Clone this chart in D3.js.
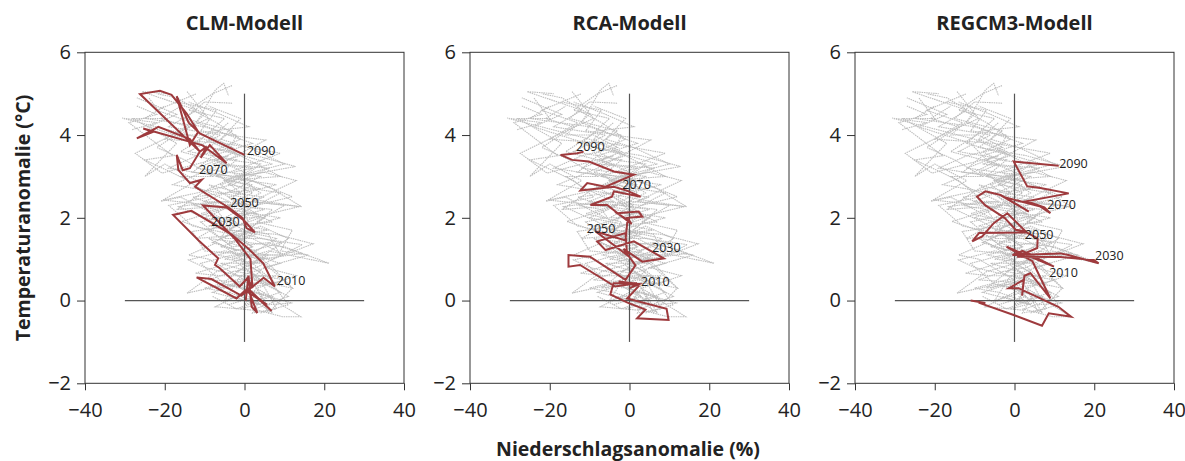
<!DOCTYPE html>
<html>
<head>
<meta charset="utf-8">
<script src="https://cdn.jsdelivr.net/npm/d3@7"></script>
<style>
  body { margin: 0; background: #fff; }
  svg { font-family: "Open Sans", "Noto Sans", sans-serif; }
</style>
</head>
<body>
<div id="chart"></div>
<script>
const RED = "#9e3a3d"
const GREY = "#bdbdbd"

const titles = ["CLM-Modell", "RCA-Modell", "REGCM3-Modell"];
const xTicks = [-40, -20, 0, 20, 40];
const yTicks = [-2, 0, 2, 4, 6];

// grey ensemble runs (same in every panel), [precip %, temp °C]
const grey1 = [[1,0.1],[7,-0.3],[3,0.3],[10,0.5],[-2,0.7],[6,1.1],[-6,1.3],[3,1.6],[-9,1.8],[1,2.1],[-4,2.5],[8,2.8],[-7,3.0],[-2,3.4],[-14,3.6],[-6,4.0],[-19,4.2],[-12,4.6],[-25.7,5.05],[-19,5.0]];
const grey2 = [[-3,0.1],[4,-0.1],[-8,0.2],[2,0.5],[12,0.3],[5,0.9],[-5,1.0],[9,1.4],[0,1.6],[-12,1.5],[-3,2.0],[5,2.2],[-10,2.4],[-2,2.7],[4,3.0],[-12,3.2],[-4,3.5],[-20.7,3.08],[-27.4,3.56],[-16,4.1],[-9,4.4],[-14.4,5.05]];
const grey3 = [[2,-0.2],[9.5,-0.39],[14.1,-0.39],[6,0.1],[-4,0.4],[-14.4,0.18],[-7,0.7],[4,1.0],[14.5,1.14],[6,1.4],[-3,1.3],[-9,1.7],[-15.7,1.91],[-6,2.2],[2,2.6],[-5,2.9],[9,3.0],[-3,3.6],[-10,3.9],[-30.7,4.41],[-22,4.3],[-28.2,4.13]];
const grey4 = [[0,0.2],[-7.3,-0.15],[1.9,-0.23],[11,0.1],[3,0.5],[-10,0.8],[-14,0.98],[-5,1.2],[7,1.0],[17.2,1.37],[8,1.6],[-4,1.7],[2,2.0],[13.7,2.27],[5,2.4],[-6,2.6],[-18,2.8],[-8,3.2],[5.3,3.88],[-4,4.0],[-12,4.3],[-7.3,5.09],[-5.2,5.25],[-4,4.95]];
const grey5 = [[4,0.0],[-1,0.3],[8,0.6],[-6,0.6],[-12.3,0.66],[-4,0.9],[6,1.2],[21.2,0.9],[10,1.3],[1,1.4],[-8,1.9],[-16.5,2.27],[-7,2.4],[3,2.3],[12,2.51],[2,2.9],[-9,3.1],[-4,3.3],[-16,3.6],[-8,4.1],[1.1,4.2],[-6,4.5],[-14,4.8]];
const grey6 = [[6,-0.1],[12,-0.06],[2,0.2],[-5,0.0],[-1,0.6],[9,0.9],[2,1.1],[-10,1.2],[-13.1,1.67],[-4,1.8],[7,1.9],[0,2.2],[-8,2.3],[-20.3,2.43],[-12,2.6],[-3,2.8],[6,3.2],[-6,3.3],[-11,3.8],[-24,4.2],[-17,4.5],[-27,4.9]];
const grey7 = [[-1,-0.2],[5,-0.05],[0,0.3],[6,0.4],[-9,0.5],[-3,0.7],[3,0.8],[14.5,1.35],[4,1.5],[-5,1.5],[-2,1.9],[-11,2.1],[0,2.4],[14.3,2.27],[7,2.7],[-1,3.0],[12.8,3.24],[3,3.5],[-9,3.7],[-3,4.1],[-15,4.4],[-10,4.8],[-3.1,4.77]];
const grey8 = [[3,0.3],[0,-0.1],[9,0.2],[1,0.7],[-6,0.9],[5,0.9],[-1,1.2],[-8,1.4],[1,1.8],[9,2.0],[-4,2.2],[-13,2.5],[-5,2.6],[4,2.7],[-7,3.0],[-1,3.2],[9,3.56],[-5,3.8],[-20,3.9],[-13,4.3],[-22,4.6],[-12,5.0]];
const grey9 = [[2,0.0],[-4,0.2],[-10,0.3],[-2,0.5],[5,0.6],[-1,1.0],[-7,1.1],[2,1.3],[-3,1.6],[6,1.7],[-10,2.0],[-3,2.3],[-17,2.2],[-9,2.7],[-2,3.0],[-13,3.1],[-8,3.5],[2,3.8],[-10,4.2],[-25,4.4],[-20,4.7]];
const grey10 = [[5,0.2],[2,-0.3],[8,-0.2],[4,0.5],[-3,1.0],[3,1.2],[8,1.5],[-1,1.7],[-6,1.5],[-2,2.1],[3,2.1],[-9,2.8],[-1,2.6],[-6,3.0],[-19,3.2],[-12,3.5],[-3,3.7],[-9,4.0],[-16,4.0],[-10,4.5],[-17,4.9],[-22,5.0]];
const grey11 = [[1,0.5],[-2,0.3],[4,0.7],[-1,0.9],[3,1.2],[-4,1.4],[2,1.6],[-2,1.8],[4,2.0],[-5,2.0],[1,2.3],[-3,2.5],[2,2.8],[-5,2.9],[0,3.1],[-7,3.4],[-2,3.6],[-9,3.9],[-4,4.3]];
const grey12 = [[3,0.6],[0,0.8],[5,1.0],[-2,1.1],[2,1.3],[-5,1.7],[1,1.9],[-1,2.3],[5,2.5],[-3,2.6],[-6,2.8],[0,3.0],[4,3.3],[-4,3.4],[-8,3.6],[-1,3.9],[-7,4.3],[-13,4.6]];
const grey13 = [[-8,0.1],[-2,-0.2],[7,0.1],[-5,0.4],[-11,0.9],[-3,1.1],[10,1.1],[2,1.5],[-13,1.8],[-19,2.3],[-9,2.5],[-14,2.9],[-25,3.4],[-18,3.5],[-29,4.3],[-22,4.5],[-27,4.7]];
const grey14 = [[4,-0.3],[11,-0.1],[7,0.4],[13,0.6],[5,0.8],[16,1.1],[9,1.2],[12,1.7],[3,1.9],[10,2.3],[2,2.4],[13,2.9],[5,3.1],[-2,3.0],[10,3.3],[1,3.7],[-6,3.9],[-1,4.4],[-9,4.7]];
const grey15 = [[-6,0.3],[0,0.5],[-9,1.0],[-14,1.1],[-7,1.4],[-2,1.2],[-11,1.9],[-6,2.0],[-16,2.5],[-21,2.4],[-12,2.9],[-20,3.3],[-25,3.0],[-17,3.8],[-28,4.4],[-20,4.4],[-24,4.9]];
const grey16 = [[0,0.6],[8,0.4],[2,0.9],[11,1.5],[4,1.8],[-2,1.5],[5,2.0],[-1,2.1],[9,2.6],[-4,2.8],[2,3.2],[-8,3.3],[-1,3.5],[-12,3.8],[-5,4.4],[-14,4.6],[-8,5.0],[-3,5.2]];
const grey17 = [[-4,-0.1],[3,0.1],[-1,0.4],[-7,0.3],[1,0.9],[-5,1.3],[-9,1.5],[-1,1.4],[-7,2.2],[-13,2.3],[-4,2.4],[-11,2.7],[-16,3.0],[-8,3.0],[-15,3.4],[-22,3.7],[-14,4.2],[-21,4.4],[-16,4.7]];
const grey18 = [[8,0.0],[3,0.3],[6,-0.3],[12,0.3],[7,0.8],[3,1.1],[9,1.1],[6,1.6],[1,1.7],[7,2.2],[-2,2.3],[4,2.6],[-3,3.1],[7,3.3],[-4,3.6],[-2,4.0],[-11,4.1],[-7,4.6],[-17,4.8]];
const greyRuns = [grey1, grey2, grey3, grey4, grey5, grey6, grey7, grey8, grey9, grey10, grey11, grey12,
                  grey13, grey14, grey15, grey16, grey17, grey18];

// highlighted model run per panel
const clmRed = [[0.3,0.0],[1.0,0.6],[1.8,-0.15],[3.2,-0.3],[0.8,0.3],[6.8,-0.25],[2.2,0.15],[5.6,-0.1],[0.2,0.25],[-2.0,0.05],[-12.0,0.56],[-8.3,0.52],[-0.8,0.12],[4.8,0.55],[7.6,0.34],[4.7,0.9],[1.0,1.25],[-3.3,1.6],[-13.3,2.17],[-17.9,2.07],[-11.5,1.45],[-6.6,1.02],[-7.4,0.86],[-6.2,0.78],[-1.2,0.34],[0.8,0.55],[2.0,0.3],[1.5,1.0],[-2.5,1.5],[-10.4,2.3],[-4.5,2.25],[-0.3,1.95],[2.6,1.65],[0.5,1.75],[-0.5,2.0],[-4.0,2.25],[-12.4,2.75],[-10.7,2.92],[-13.7,2.84],[-16.6,3.16],[-17.0,3.52],[-15.5,3.15],[-13.7,3.2],[-11.2,3.6],[-9.5,3.72],[-11.0,3.45],[-8.7,3.76],[-4.5,3.32],[-10.5,3.75],[-25.4,4.16],[-22.9,4.08],[-27.0,3.92],[-21.6,4.2],[-13.7,3.9],[-11.2,3.6],[-26.2,4.99],[-21.2,5.07],[-18.3,4.97],[-14.5,4.52],[-11.6,4.08],[-13.7,3.76],[-17.0,4.94],[-14.0,4.3],[-11.2,4.04],[0.0,3.52]];
const rcaRed = [[0.0,0.3],[2.5,0.4],[-2.7,0.46],[2.3,0.35],[-0.6,0.05],[9.3,-0.2],[9.8,-0.47],[1.9,-0.43],[4.0,-0.22],[-0.5,-0.05],[-4.8,0.15],[-4.0,0.42],[1.9,0.42],[-3.6,0.34],[-12.4,0.86],[-15.3,0.82],[-15.3,1.1],[-9.9,1.06],[-1.0,0.5],[1.5,0.85],[-1.5,1.25],[3.2,0.94],[8.6,1.02],[1.1,1.43],[-6.0,1.22],[-8.1,1.43],[-1.0,1.63],[-0.6,1.1],[-8.5,1.67],[-1.0,1.45],[-0.5,1.95],[-3.1,2.11],[2.3,2.15],[3.2,2.03],[-0.5,2.0],[0.5,1.85],[-5.6,2.31],[-9.8,2.31],[-4.4,2.51],[-3.9,2.64],[2.8,2.51],[-0.5,2.65],[-3.9,2.75],[-12.3,2.66],[-10.6,2.84],[-6.0,2.75],[1.1,3.04],[-3.9,3.12],[-10.2,3.36],[-14.4,3.4],[-17.3,3.52],[-13.1,3.56],[-11.5,3.6]];
const regRed = [[-11.0,0.0],[-7.3,-0.06],[-9.0,-0.05],[-0.2,-0.35],[6.9,-0.61],[8.6,-0.31],[14.2,-0.39],[11.0,-0.15],[1.0,0.3],[-1.4,0.3],[2.3,0.5],[1.9,0.12],[2.5,0.6],[4.0,0.66],[9.0,0.05],[4.5,0.95],[-2.0,1.3],[9.9,0.82],[2.0,1.2],[-0.5,1.1],[11.5,1.14],[13.5,1.1],[21.1,0.9],[19.9,0.98],[11.5,1.05],[0.7,1.06],[5.7,1.27],[5.8,1.5],[3.0,1.65],[-8.9,1.63],[-10.6,1.43],[-8.1,1.55],[-5.2,1.87],[-1.8,2.11],[2.8,1.67],[0.3,1.71],[-2.5,2.0],[-7.3,2.3],[-9.4,2.51],[-7.3,2.64],[-3.5,2.55],[3.6,2.15],[-2.5,2.5],[6.5,2.27],[9.0,2.11],[7.5,2.25],[3.0,2.4],[13.6,2.59],[6.5,2.72],[3.2,2.76],[-0.2,3.36],[11.1,3.26]];
const redRuns = [clmRed, rcaRed, regRed];

// decade labels: [text, x, y]
const clmYears = [["2090",0.6,3.62],["2070",-11.4,3.16],["2050",-3.6,2.38],["2030",-8.4,1.9],["2010",8.1,0.48]];
const rcaYears = [["2090",-13.4,3.72],["2070",-1.8,2.8],["2050",-10.7,1.75],["2030",5.65,1.29],["2010",2.9,0.46]];
const regYears = [["2090",11.2,3.32],["2070",8.2,2.31],["2050",2.6,1.6],["2030",20.2,1.08],["2010",8.7,0.68]];
const yearLabels = [clmYears, rcaYears, regYears];

const width = 1185, height = 461;
const panelLeft = [85, 470, 855];
const panelTop = 52.3, pw = 319, ph = 331;

const svg = d3.select("#chart").append("svg").attr("width", width).attr("height", height);

let x = d3.scaleLinear().domain([-40, 40]).range([0, pw]);
let y = d3.scaleLinear().domain([-2, 6]).range([ph, 0]);
let line = d3.line().x(d => x(d[0])).y(d => y(d[1]));
let fmt = d => d < 0 ? "\u2212" + Math.abs(d) : "" + d;

titles.forEach(function (t, i) {
    let g = svg.append("g").attr("transform", "translate(" + panelLeft[i] + "," + panelTop + ")");

    g.append("g").selectAll("path").data(greyRuns).join("path")
        .attr("d", line).attr("fill", "none").attr("stroke", GREY)
        .attr("stroke-width", 1.1).attr("stroke-dasharray", "1.5,0.8");

    // cross lines
    g.append("line").attr("x1", x(-30)).attr("x2", x(30)).attr("y1", y(0)).attr("y2", y(0))
        .attr("stroke", "#555").attr("stroke-width", 1.3);
    g.append("line").attr("x1", x(0)).attr("x2", x(0)).attr("y1", y(-1)).attr("y2", y(5))
        .attr("stroke", "#555").attr("stroke-width", 1.2);

    g.append("path").datum(redRuns[i]).attr("d", line).attr("fill", "none")
        .attr("stroke", RED).attr("stroke-width", 2).attr("stroke-linejoin", "miter");

    g.append("g").selectAll("text").data(yearLabels[i]).join("text")
        .text(d => d[0]).attr("x", d => x(d[1])).attr("y", d => y(d[2]))
        .attr("dominant-baseline", "central").attr("font-size", "12.5px").attr("fill", "#222");

    g.append("rect").attr("width", pw).attr("height", ph).attr("fill", "none")
        .attr("stroke", "#333").attr("stroke-width", 1);

    let ax = g.append("g").attr("transform", "translate(0," + ph + ")")
        .call(d3.axisBottom(x).tickValues(xTicks).tickSize(7).tickPadding(13).tickFormat(fmt));
    let ay = g.append("g")
        .call(d3.axisLeft(y).tickValues(yTicks).tickSize(8).tickPadding(6).tickFormat(fmt));
    [ax, ay].forEach(function (a) {
        a.select(".domain").remove();
        a.selectAll("line").attr("stroke", "#333");
        a.selectAll("text").attr("font-size", "20px").attr("fill", "#222")
            .attr("font-family", "'Open Sans', sans-serif");
    });

    svg.append("text").text(t).attr("x", panelLeft[i] + pw / 2).attr("y", 30)
        .attr("text-anchor", "middle").attr("font-weight", "bold").attr("font-size", "20px").attr("fill", "#222");
});

svg.append("text").text("Temperaturanomalie (°C)")
    .attr("transform", "translate(22,218) rotate(-90)")
    .attr("text-anchor", "middle").attr("dominant-baseline", "central")
    .attr("font-weight", "bold").attr("font-size", "19.5px").attr("fill", "#222");

svg.append("text").text("Niederschlagsanomalie (%)")
    .attr("x", 628).attr("y", 456).attr("text-anchor", "middle")
    .attr("font-weight", "bold").attr("font-size", "19.5px").attr("fill", "#222");
</script>
</body>
</html>
